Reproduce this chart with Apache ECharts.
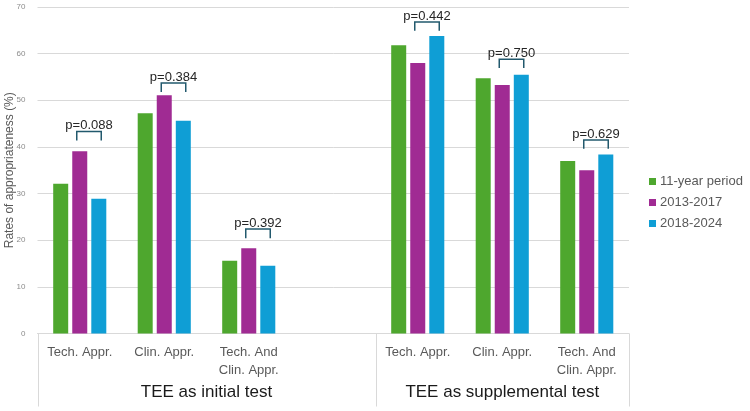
<!DOCTYPE html>
<html>
<head>
<meta charset="utf-8">
<script src="https://cdn.jsdelivr.net/npm/echarts@6/dist/echarts.min.js"></script>
<style>html,body{margin:0;padding:0;background:#fff}#c{width:750px;height:411px}</style>
</head>
<body>
<div id="c"></div>
<script>
const categories = ['Tech. Appr.', 'Clin. Appr.', 'Tech. And\nClin. Appr.', '', 'Tech. Appr.', 'Clin. Appr.', 'Tech. And\nClin. Appr.'];
const groups = ['TEE as initial test', 'TEE as supplemental test'];
const seriesNames = ['11-year period', '2013-2017', '2018-2024'];
const period11 = [32.1, 47.2, 15.6, null, 61.8, 54.7, 37.0];
const period1317 = [39.1, 51.1, 18.3, null, 58.0, 53.3, 35.0];
const period1824 = [28.9, 45.6, 14.5, null, 63.8, 55.5, 38.4];
const pLabels = ['p=0.088', 'p=0.384', 'p=0.392', null, 'p=0.442', 'p=0.750', 'p=0.629'];
const bracketTop = [43.3, 53.7, 22.4, null, 66.8, 58.8, 41.5];
const bracketBase = [41.4, 51.8, 20.4, null, 64.9, 56.9, 39.6];
const yTicks = {min: 0, max: 70, interval: 10};

const colors = ['#4EA72E', '#A02B93', '#0F9ED5'];
const chart = echarts.init(document.getElementById('c'), null, {renderer: 'canvas'});

const bracketData = [];
categories.forEach((c, i) => {
  if (pLabels[i] != null) bracketData.push([i, bracketTop[i], bracketBase[i], pLabels[i]]);
});

const barSeries = [period11, period1317, period1824].map((d, k) => ({
  name: seriesNames[k],
  type: 'bar',
  data: d,
  barWidth: 15,
  barGap: '27%',
  itemStyle: {color: colors[k]},
  silent: true
}));

chart.setOption({
  animation: false,
  textStyle: {fontFamily: 'Liberation Sans, Arial, sans-serif'},
  grid: {left: 37.5, right: 121, top: 7, bottom: 77.5, containLabel: false, outerBoundsMode: 'none'},
  legend: {
    data: seriesNames,
    orient: 'vertical',
    left: 644,
    top: 170,
    itemWidth: 7,
    itemHeight: 7,
    itemGap: 8,
    icon: 'rect',
    textStyle: {fontSize: 13, color: '#595959', padding: [0, 0, 0, -1]}
  },
  xAxis: {
    type: 'category',
    data: categories,
    axisTick: {show: false},
    axisLine: {lineStyle: {color: '#d9d9d9', width: 1}},
    axisLabel: {interval: 0, fontSize: 13, color: '#595959', lineHeight: 18, margin: 10}
  },
  yAxis: {
    type: 'value',
    min: yTicks.min, max: yTicks.max, interval: yTicks.interval,
    name: 'Rates of appropriateness (%)',
    nameLocation: 'middle',
    nameGap: 22,
    nameMoveOverlap: false,
    nameTextStyle: {fontSize: 12, color: '#595959'},
    axisLine: {show: false},
    axisTick: {show: false},
    axisLabel: {fontSize: 8, color: '#8c8c8c', margin: 12},
    splitLine: {lineStyle: {color: '#d9d9d9', width: 1}}
  },
  series: barSeries.concat([{
    type: 'custom',
    name: 'brackets',
    silent: true,
    data: bracketData,
    encode: {x: 0, y: 1},
    z: 5,
    renderItem: function (params, api) {
      const top = api.coord([api.value(0), api.value(1)]);
      const base = api.coord([api.value(0), api.value(2)]);
      const x1 = top[0] - 3, x2 = top[0] + 21.5;
      const label = bracketData[params.dataIndex][3];
      return {
        type: 'group',
        children: [{
          type: 'polyline',
          shape: {points: [[x1, base[1]], [x1, top[1]], [x2, top[1]], [x2, base[1]]]},
          style: {stroke: '#22596d', lineWidth: 1.5, fill: null}
        }, {
          type: 'text',
          style: {
            text: label, x: (x1 + x2) / 2, y: top[1] + 0.5,
            align: 'center', verticalAlign: 'bottom',
            fontSize: 13, fill: '#262626', fontFamily: 'Liberation Sans, Arial, sans-serif'
          }
        }]
      };
    }
  }])
});

// multi-level axis: group separators and group labels positioned from axis scale
const px = i => chart.convertToPixel({xAxisIndex: 0}, i);
const half = (px(1) - px(0)) / 2;
const y0 = chart.convertToPixel({yAxisIndex: 0}, 0);
const bounds = [px(0) - half, px(3) + half, px(6) + half];
const graphics = bounds.map(b => ({
  type: 'line',
  shape: {x1: Math.round(b) + 0.5, y1: y0, x2: Math.round(b) + 0.5, y2: y0 + 73},
  style: {stroke: '#d9d9d9', lineWidth: 1},
  silent: true
}));
const groupCenters = [(px(1) + px(2)) / 2, px(5)];
groups.forEach((g, i) => graphics.push({
  type: 'text',
  x: groupCenters[i],
  y: y0 + 59,
  style: {text: g, align: 'center', verticalAlign: 'middle', fontSize: 17, fill: '#1a1a1a', fontFamily: 'Liberation Sans, Arial, sans-serif'},
  silent: true
}));
chart.setOption({graphic: graphics});
</script>
</body>
</html>
